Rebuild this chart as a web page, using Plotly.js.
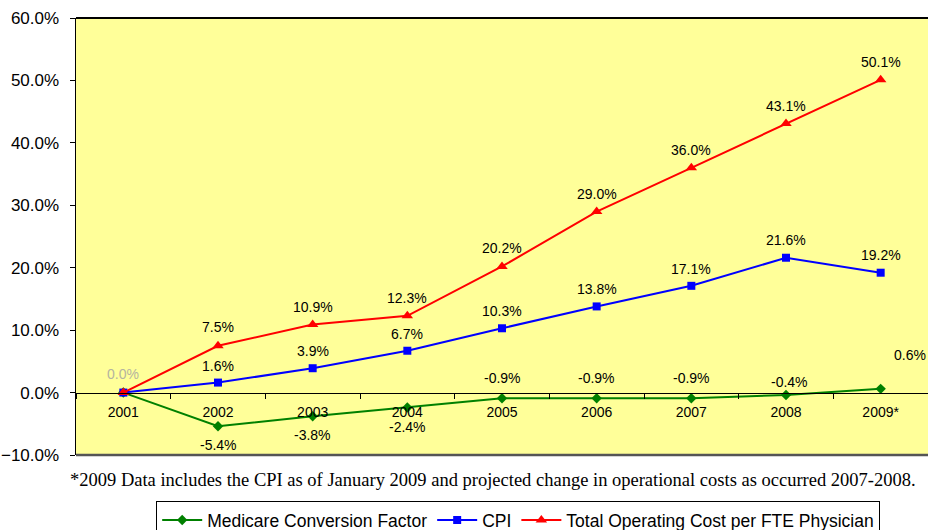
<!DOCTYPE html>
<html>
<head>
<meta charset="utf-8">
<script src="https://cdn.plot.ly/plotly-3.0.1.min.js"></script>
<style>html,body{margin:0;padding:0;background:#fff;}#chart{width:928px;height:530px;}</style>
</head>
<body>
<div id="chart"></div>
<script>
const years = ["2001","2002","2003","2004","2005","2006","2007","2008","2009*"];
const medicare = [0.0, -5.4, -3.8, -2.4, -0.9, -0.9, -0.9, -0.4, 0.6];
const cpi = [0.0, 1.6, 3.9, 6.7, 10.3, 13.8, 17.1, 21.6, 19.2];
const totalCost = [0.0, 7.5, 10.9, 12.3, 20.2, 29.0, 36.0, 43.1, 50.1];
const seriesNames = ["Medicare Conversion Factor", "CPI", "Total Operating Cost per FTE Physician"];
const footnote = "*2009 Data includes the CPI as of January 2009 and projected change in operational costs as occurred 2007-2008.";

// label offsets (pixels) per point: [xshift, yshift]; null = no label
const medOff = [null, [0,-19], [0,-19], [0,-19], [0,20], [0,20], [0,20], [3,13], [29,34]];
const cpiOff = [null, [0,17], [0,17], [0,17], [0,17], [0,17], [0,17], [0,18], [0,18]];
const totOff = [[0,19], [0,19], [0,18], [0,18], [0,18], [0,18], [0,18], [0,18], [0,18]];

const fmt = v => v.toFixed(1) + "%";
const annotations = [];
function addLabels(vals, offs, color) {
  vals.forEach((v, i) => {
    if (!offs[i]) return;
    annotations.push({
      x: i, y: v, xref: "x", yref: "y", text: fmt(v), showarrow: false,
      xshift: offs[i][0], yshift: offs[i][1],
      font: {family: "Liberation Sans, Arial, sans-serif", size: 14, color: (i === 0 ? "#b4b4a0" : color)}
    });
  });
}
addLabels(medicare, medOff, "#000");
addLabels(cpi, cpiOff, "#000");
addLabels(totalCost, totOff, "#000");
annotations.push({
  xref: "paper", yref: "paper", x: 0.49, y: -0.057, xanchor: "center", yanchor: "middle",
  text: footnote, showarrow: false,
  font: {family: "Liberation Serif, Times New Roman, serif", size: 18.5, color: "#000"}
});

const traces = [
  {x: years, y: medicare, name: seriesNames[0], type: "scatter", mode: "lines+markers",
   line: {color: "#008000", width: 2}, marker: {symbol: "diamond", size: 8, color: "#008000"}},
  {x: years, y: cpi, name: seriesNames[1], type: "scatter", mode: "lines+markers",
   line: {color: "#0000FF", width: 2}, marker: {symbol: "square", size: 8, color: "#0000FF"}},
  {x: years, y: totalCost, name: seriesNames[2], type: "scatter", mode: "lines+markers",
   line: {color: "#FF0000", width: 2}, marker: {symbol: "triangle-up", size: 10, color: "#FF0000"}}
];

const layout = {
  width: 928, height: 530,
  margin: {l: 76, r: 0, t: 18, b: 75, autoexpand: false},
  paper_bgcolor: "#ffffff",
  plot_bgcolor: "#FFFF99",
  showlegend: true,
  font: {family: "Liberation Sans, Arial, sans-serif", color: "#000"},
  xaxis: {
    type: "category", range: [-0.5, 8.5], anchor: "free", position: 1/7,
    showline: true, linecolor: "#000", linewidth: 1,
    ticks: "outside", ticklen: 5, tickcolor: "#000", tickson: "boundaries",
    ticklabelstandoff: 7,
    showgrid: false, zeroline: false, fixedrange: true,
    tickfont: {size: 14, color: "#000"}
  },
  yaxis: {
    range: [-10, 60], dtick: 10, tick0: 0, tickformat: ".1f", ticksuffix: "%",
    showline: true, linecolor: "#000", linewidth: 1.5,
    ticks: "outside", ticklen: 5, tickcolor: "#000", ticklabelstandoff: 7,
    showgrid: false, zeroline: false, fixedrange: true, automargin: false,
    tickfont: {size: 17, color: "#000"}
  },
  legend: {
    orientation: "h", x: 0.519, xanchor: "center", y: -0.149, yanchor: "middle",
    bordercolor: "#000", borderwidth: 1, bgcolor: "#fff",
    font: {size: 17.5, color: "#000"}, itemwidth: 40, tracegroupgap: 0
  },
  shapes: [
    {type: "line", xref: "paper", yref: "paper", x0: 0, x1: 1, y0: 1, y1: 1, line: {color: "#000", width: 2}},
    {type: "line", xref: "paper", yref: "paper", x0: 0, x1: 1, y0: 0, y1: 0, line: {color: "#555", width: 2.5}}
  ],
  annotations: annotations
};

Plotly.newPlot("chart", traces, layout, {displayModeBar: false, staticPlot: true});
</script>
</body>
</html>
